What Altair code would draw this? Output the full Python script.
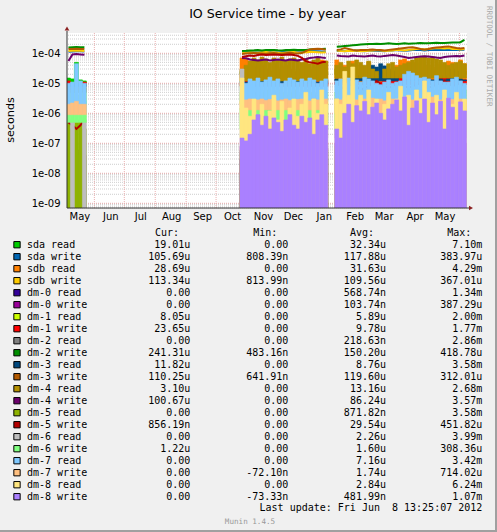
import altair as alt
import pandas as pd

# ---------------- text ----------------
TITLE = "IO Service time - by year"
Y_TITLE = "seconds"
LAST_UPDATE = "Last update: Fri Jun\u00a0 8 13:25:07 2012"
FOOTER = "Munin 1.4.5"
WATERMARK = "RRDTOOL / TOBI OETIKER"
HEADERS = ["Cur:", "Min:", "Avg:", "Max:"]

# ---------------- series ----------------
SERIES = ["sda read", "sda write", "sdb read", "sdb write", "dm-0 read", "dm-0 write",
          "dm-1 read", "dm-1 write", "dm-2 read", "dm-2 write", "dm-3 read", "dm-3 write",
          "dm-4 read", "dm-4 write", "dm-5 read", "dm-5 write", "dm-6 read", "dm-6 write",
          "dm-7 read", "dm-7 write", "dm-8 read", "dm-8 write"]
COLORS = ["#00CC00", "#0066B3", "#FF8000", "#FFCC00", "#330099", "#990099",
          "#CCFF00", "#FF0000", "#808080", "#008F00", "#00487D", "#B35A00",
          "#B38F00", "#6B006B", "#8FB300", "#B30000", "#BEBEBE", "#80FF80",
          "#80C9FF", "#FFC080", "#FFE680", "#AA80FF"]
KIND = ["band", "line", "band", "line", "band", "band",
        "band", "band", "band", "line", "band", "line",
        "band", "line", "band", "line", "band", "band",
        "band", "band", "band", "band"]

# time buckets: three data periods, 4-day buckets
SEGMENT_STARTS = ["2011-05-04", "2011-10-25", "2012-01-28"]
SEGMENT_BUCKETS = [5, 22, 33]
BUCKET_DAYS = 4

# lower edge (microseconds) of each series' band per period; 0 = bottom of graph
LO_US = [[8, 20, 20], None, [5, 8, 10], None, [0, 0, 0], [0, 0, 0],
         [2, 2, 2], [8, 8, 9], [0, 0, 0], None, [8, 10, 12], None,
         [5, 12, 15], None, [0, 0, 0], None, [0, 0.15, 0.15], [0.5, 0.3, 0.25],
         [1.0, 2.5, 2.5], [0.9, 1.3, 1.0], [0, 0, 0], [0, 0, 0]]

# upper values in microseconds (period A: 5, period B1: 22, period B2: 33)
SDA_READ = ([15, 14, 50, 13, 12] +
            [25, 25, 28, 25, 25, 25, 30, 25, 25, 25, 28, 25, 25, 25, 25, 28, 25, 25, 25, 30, 25, 25] +
            [30, 28, 25, 25, 30, 25, 28, 25, 30, 25, 25, 25, 25, 28, 25, 28, 25, 30, 25, 28, 45, 30, 25, 25, 28, 25, 25, 28, 30, 25, 28, 30, 25])
SDA_WRITE = ([112, 115, 118, 116, 114] +
             [105, 108, 110, 108, 106, 110, 112, 110, 108, 106, 108, 110, 112, 110, 108, 110, 112, 115, 118, 116, 114, 112] +
             [120, 122, 118, 120, 122, 125, 120, 118, 122, 125, 122, 120, 118, 122, 125, 128, 125, 122, 125, 128, 130, 128, 125, 128, 130, 132, 130, 128, 132, 130, 128, 130, 132])
SDB_READ = ([8, 8, 9, 8, 8] +
            [70, 65, 55, 35, 30, 40, 30, 25, 45, 30, 35, 40, 30, 25, 30, 45, 50, 30, 35, 40, 60, 55] +
            [60, 45, 40, 35, 55, 30, 40, 35, 50, 20, 15, 15, 20, 15, 25, 40, 60, 65, 55, 50, 45, 60, 35, 40, 30, 35, 45, 40, 55, 50, 40, 60, 45])
SDB_WRITE = ([120, 122, 124, 122, 120] +
             [100, 104, 108, 106, 104, 108, 110, 106, 108, 104, 100, 106, 108, 110, 104, 106, 108, 112, 110, 108, 106, 108] +
             [125, 120, 118, 122, 120, 125, 118, 120, 122, 125, 128, 125, 120, 122, 125, 130, 128, 125, 130, 135, 140, 138, 135, 140, 145, 150, 148, 145, 150, 140, 138, 135, 140])
DM0_READ = ([0.02, 0.03, 0.02, 0.02, 0.03] +
            [0.03, 0.02, 0.04, 0.03, 0.02, 0.05, 0.03, 0.02, 0.04, 0.03, 0.02, 0.03, 0.05, 0.03, 0.02, 0.04, 0.03, 0.02, 0.03, 0.04, 0.02, 0.03] +
            [0.04, 0.03, 0.02, 0.05, 0.03, 0.04, 0.02, 0.03, 0.05, 0.04, 0.03, 0.02, 0.04, 0.03, 0.05, 0.02, 0.03, 0.04, 0.03, 0.02, 0.05, 0.04, 0.03, 0.02, 0.04, 0.03, 0.05, 0.02, 0.03, 0.04, 0.03, 0.02, 0.04])
DM0_WRITE = ([0.05, 0.04, 0.06, 0.05, 0.04] +
             [0.08, 0.06, 0.1, 0.07, 0.09, 0.06, 0.08, 0.1, 0.07, 0.06, 0.09, 0.08, 0.1, 0.07, 0.06, 0.08, 0.09, 0.07, 0.1, 0.06, 0.08, 0.07] +
             [0.1, 0.08, 0.12, 0.09, 0.1, 0.07, 0.11, 0.09, 0.08, 0.12, 0.1, 0.09, 0.08, 0.11, 0.1, 0.09, 0.12, 0.08, 0.1, 0.09, 0.11, 0.08, 0.1, 0.12, 0.09, 0.08, 0.1, 0.11, 0.09, 0.1, 0.08, 0.12, 0.1])
DM1_READ = ([6, 5, 4, 4, 5] +
            [5, 4, 6, 5, 4, 5, 6, 4, 5, 6, 5, 4, 5, 6, 4, 5, 6, 5, 4, 5, 6, 5] +
            [5, 6, 4, 5, 6, 5, 4, 6, 5, 4, 5, 6, 5, 4, 6, 5, 4, 5, 6, 5, 7, 6, 5, 4, 5, 6, 5, 4, 6, 5, 4, 5, 6])
DM1_WRITE = ([12, 10, 9, 9, 11] +
             [10, 12, 11, 10, 9, 12, 10, 14, 11, 10, 12, 10, 9, 11, 10, 12, 11, 10, 12, 11, 10, 12] +
             [11, 10, 12, 10, 11, 12, 10, 11, 12, 14, 12, 11, 12, 13, 15, 18, 16, 14, 12, 11, 10, 12, 11, 10, 12, 14, 16, 18, 17, 14, 12, 11, 13])
DM2_READ = ([0.04, 0.03, 0.05, 0.04, 0.03] +
            [0.05, 0.04, 0.06, 0.05, 0.04, 0.05, 0.06, 0.04, 0.05, 0.04, 0.06, 0.05, 0.04, 0.05, 0.06, 0.04, 0.05, 0.06, 0.04, 0.05, 0.04, 0.05] +
            [0.06, 0.05, 0.04, 0.06, 0.05, 0.07, 0.05, 0.04, 0.06, 0.05, 0.04, 0.06, 0.05, 0.07, 0.04, 0.05, 0.06, 0.05, 0.04, 0.06, 0.05, 0.07, 0.05, 0.04, 0.06, 0.05, 0.04, 0.06, 0.05, 0.07, 0.04, 0.05, 0.06])
DM2_WRITE = ([155, 160, 162, 160, 158] +
             [120, 122, 125, 126, 128, 125, 128, 130, 128, 126, 125, 128, 130, 132, 130, 128, 130, 134, 136, 138, 140, 142] +
             [165, 170, 175, 180, 185, 190, 195, 200, 205, 205, 210, 205, 210, 215, 210, 205, 210, 215, 210, 212, 215, 220, 218, 215, 220, 225, 222, 220, 225, 228, 230, 235, 280])
DM3_READ = ([9, 9, 10, 9, 9] +
            [12, 11, 13, 12, 11, 12, 14, 12, 11, 13, 12, 11, 12, 13, 15, 12, 11, 13, 12, 11, 12, 13] +
            [14, 13, 15, 25, 30, 18, 15, 14, 16, 40, 35, 45, 38, 30, 25, 15, 12, 11, 13, 12, 14, 13, 12, 14, 13, 12, 14, 13, 14, 30, 25, 14, 13])
DM3_WRITE = ([138, 140, 142, 140, 138] +
             [95, 98, 100, 102, 100, 98, 96, 100, 102, 98, 96, 100, 104, 100, 98, 102, 118, 135, 140, 142, 138, 132] +
             [130, 135, 150, 140, 130, 125, 128, 130, 132, 135, 130, 128, 125, 130, 135, 140, 145, 150, 155, 160, 150, 140, 135, 140, 150, 155, 160, 165, 170, 160, 150, 145, 150])
DM4_READ = ([7, 7, 7, 7, 7] +
            [30, 40, 55, 70, 60, 75, 65, 50, 70, 60, 75, 55, 65, 70, 60, 50, 65, 45, 60, 70, 50, 55] +
            [40, 50, 35, 55, 45, 60, 50, 40, 55, 30, 25, 0, 30, 45, 50, 35, 40, 45, 50, 60, 70, 75, 80, 70, 75, 65, 60, 50, 40, 45, 50, 55, 45])
DM4_WRITE = ([55, 92, 94, 92, 90] +
             [70, 68, 62, 60, 58, 60, 62, 58, 60, 62, 60, 58, 62, 60, 58, 62, 65, 70, 72, 75, 72, 70] +
             [85, 82, 80, 78, 85, 82, 80, 78, 82, 85, 80, 78, 82, 85, 88, 85, 80, 75, 70, 72, 75, 78, 80, 78, 75, 72, 70, 75, 78, 80, 82, 80, 85])
DM5_READ = ([0.6, 0.3, 0.5, 0.6, 0.3] +
            [0.06, 0.05, 0.08, 0.06, 0.05, 0.07, 0.06, 0.05, 0.6, 0.06, 0.05, 0.07, 0.06, 0.05, 0.08, 0.06, 0.05, 0.07, 0.06, 0.3, 0.4, 0.06] +
            [0.08, 0.06, 0.07, 0.05, 0.09, 0.06, 0.05, 0.07, 0.08, 0.06, 0.05, 0.07, 0.09, 0.06, 0.07, 0.05, 0.08, 0.07, 0.06, 0.05, 0.09, 0.06, 0.07, 0.05, 0.08, 0.06, 0.07, 0.09, 0.05, 0.06, 0.08, 0.07, 0.06])
DM5_WRITE = ([0.5, 0.4, 0.3, 0.4, 0.6] +
             [75, 80, 85, 82, 88, 92, 88, 90, 92, 90, 88, 90, 92, 88, 82, 70, 55, 50, 48, 45, 50, 52] +
             [10, 8, 6, 8, 10, 8, 6, 7, 8, 10, 12, 9, 8, 7, 8, 10, 9, 8, 7, 8, 9, 10, 8, 7, 8, 9, 10, 12, 10, 8, 9, 10, 8])
DM6_READ = ([0, 0.6, 0, 0, 0.6] +
            [30, 3, 2, 4, 2, 3, 2, 1.5, 3, 2, 0.8, 0.6, 2, 3, 1, 2, 3, 4, 2, 5, 3, 2] +
            [2, 3, 1.5, 2, 4, 2, 3, 2, 1.5, 3, 2, 4, 2, 3, 1.5, 2, 3, 2, 4, 2, 3, 1.5, 2, 3, 2, 4, 3, 2, 1.5, 3, 2, 4, 2])
DM6_WRITE = ([2.5, 2.2, 3, 2, 2.5] +
             [1.5, 2, 1.8, 2.2, 2, 1.8, 2.4, 2, 1.6, 2.2, 2, 1.8, 2.4, 2, 1.8, 2.2, 2, 1.6, 2.4, 2, 1.8, 2] +
             [1.8, 2, 1.6, 2.2, 1.8, 2, 1.5, 2.2, 1.8, 2, 1.6, 1.4, 1.8, 2, 1.6, 2, 1.8, 1.5, 1.2, 1.4, 1.6, 1.2, 1.0, 1.4, 1.2, 1.5, 1.3, 1.6, 1.4, 1.2, 1.5, 1.6, 1.4])
DM7_READ = ([10, 11, 45, 12, 10] +
            [12, 10, 14, 12, 15, 11, 13, 16, 12, 14, 10, 12, 15, 13, 11, 14, 12, 15, 13, 10, 12, 14] +
            [12, 14, 10, 15, 12, 13, 11, 16, 14, 12, 10, 9, 11, 13, 10, 11, 12, 20, 25, 22, 18, 15, 16, 14, 12, 18, 12, 11, 11, 14, 16, 12, 10])
DM7_WRITE = ([2, 2.2, 2.5, 2, 2] +
             [2.5, 2.8, 3, 2.6, 2.8, 3, 2.7, 2.9, 3, 2.6, 2.8, 3, 2.7, 2.5, 2.9, 3, 2.8, 2.6, 3, 2.8, 2.7, 3] +
             [3, 2.8, 3.2, 2.6, 3, 2.8, 3.4, 3, 2.7, 3.2, 2.9, 3, 2.6, 3.3, 3, 2.8, 3.2, 3.5, 3, 2.8, 3.4, 3.1, 2.9, 3.2, 3.5, 3, 2.8, 3.3, 3.1, 2.9, 3.2, 3, 2.8])
DM8_READ = ([0, 0, 0, 0, 0] +
            [15, 1.5, 0.8, 3, 0.5, 2, 0.3, 1.2, 4, 0.6, 2.5, 0.4, 1.5, 3, 0.8, 2, 5, 0.5, 3, 1, 6, 2] +
            [3, 2, 25, 4, 35, 1.5, 4, 2, 6, 1, 3, 0.5, 2, 5, 1.5, 3, 8, 2, 4, 1, 6, 3, 12, 5, 2, 4, 1.5, 6, 3, 2, 5, 1, 3])
DM8_WRITE = ([0, 0, 0, 0, 0] +
             [0.15, 0.12, 0.2, 0.6, 0.9, 0.4, 0.8, 0.3, 0.7, 0.5, 0.25, 0.6, 0.9, 0.4, 0.3, 0.8, 0.5, 0.7, 0.2, 0.6, 0.9, 0.4] +
             [0.3, 0.15, 1.0, 2.0, 0.5, 1.8, 1.2, 2.5, 0.9, 1.6, 2.2, 1.0, 0.6, 1.4, 2.0, 2.8, 1.2, 3.5, 0.4, 1.5, 2.6, 1.0, 3.0, 0.5, 2.2, 0.9, 2.5, 0.3, 3.2, 1.6, 0.6, 2.4, 1.2])

VALUES_US = [SDA_READ, SDA_WRITE, SDB_READ, SDB_WRITE, DM0_READ, DM0_WRITE,
             DM1_READ, DM1_WRITE, DM2_READ, DM2_WRITE, DM3_READ, DM3_WRITE,
             DM4_READ, DM4_WRITE, DM5_READ, DM5_WRITE, DM6_READ, DM6_WRITE,
             DM7_READ, DM7_WRITE, DM8_READ, DM8_WRITE]

# legend table values
CUR = ["19.01u", "105.69u", "28.69u", "113.34u", "0.00", "0.00", "8.05u", "23.65u", "0.00", "241.31u", "11.82u",
       "110.25u", "3.10u", "100.67u", "0.00", "856.19n", "0.00", "1.22u", "0.00", "0.00", "0.00", "0.00"]
MIN = ["0.00", "808.39n", "0.00", "813.99n", "0.00", "0.00", "0.00", "0.00", "0.00", "483.16n", "0.00",
       "641.91n", "0.00", "0.00", "0.00", "0.00", "0.00", "0.00", "0.00", "-72.10n", "0.00", "-73.33n"]
AVG = ["32.34u", "117.88u", "31.63u", "109.56u", "568.74n", "103.74n", "5.89u", "9.78u", "218.63n", "150.20u", "8.76u",
       "119.60u", "13.16u", "86.24u", "871.82n", "29.54u", "2.26u", "1.60u", "7.16u", "1.74u", "2.84u", "481.99n"]
MAX = ["7.10m", "383.97u", "4.29m", "367.01u", "1.34m", "387.29u", "2.00m", "1.77m", "2.86m", "418.78u", "3.58m",
       "312.01u", "2.68m", "3.57m", "3.58m", "451.82u", "3.99m", "308.36u", "3.42m", "714.02u", "6.24m", "1.07m"]

# axis values
MONTH_STARTS = ["2011-06-01", "2011-07-01", "2011-08-01", "2011-09-01", "2011-10-01", "2011-11-01",
                "2011-12-01", "2012-01-01", "2012-02-01", "2012-03-01", "2012-04-01", "2012-05-01", "2012-06-01"]
MONTH_LABEL_DAYS = [(2011, 5), (2011, 6), (2011, 7), (2011, 8), (2011, 9), (2011, 10), (2011, 11),
                    (2011, 12), (2012, 1), (2012, 2), (2012, 3), (2012, 4), (2012, 5)]
DECADES = [1e-9, 1e-8, 1e-7, 1e-6, 1e-5, 1e-4]

# ---------------- geometry ----------------
W, H = 400, 175
Y_MIN = 10 ** -9.1567
Y_MAX = 10 ** -3.3233
MINOR = [k * d for d in [1e-10, 1e-9, 1e-8, 1e-7, 1e-6, 1e-5, 1e-4] for k in range(2, 10)
         if Y_MIN < k * d < Y_MAX]

X_SCALE = alt.Scale(domain=[alt.DateTime(year=2011, month=5, date=4, hours=13, minutes=25),
                            alt.DateTime(year=2012, month=6, date=8, hours=13, minutes=25)])
X_AXIS = alt.Axis(values=[alt.DateTime(year=y, month=m, date=17) for y, m in MONTH_LABEL_DAYS],
                  format="%b", ticks=False, domain=False, grid=False, title=None,
                  labelFont="DejaVu Sans", labelFontSize=10, labelColor="black",
                  labelPadding=3, labelOverlap=False, labelFlush=False)
Y_AXIS = alt.Axis(values=DECADES, ticks=False, domain=False, grid=False, title=None,
                  labelFont="DejaVu Sans", labelFontSize=10, labelColor="black", labelPadding=7,
                  labelExpr="'1e-0' + toString(round(-log(datum.value) / LN10))")


def yscale():
    return alt.Scale(type="log", domain=[Y_MIN, Y_MAX], clamp=True)


def ts(t):
    return t.strftime("%Y-%m-%dT%H:%M:%S")


layers = []
one = pd.DataFrame({"a": [0]})

# grid (under the data)
layers.append(alt.Chart(pd.DataFrame({"v": MINOR})).mark_rule(
    color="#CDCDCD", strokeDash=[1, 1], strokeWidth=1).encode(
    y=alt.Y("v:Q", scale=yscale(), axis=None)))
layers.append(alt.Chart(pd.DataFrame({"v": DECADES})).mark_rule(
    color="#E3A8A8", strokeDash=[1, 1], strokeWidth=1).encode(
    y=alt.Y("v:Q", scale=yscale(), axis=Y_AXIS)))
layers.append(alt.Chart(pd.DataFrame({"d": [m + "T00:00:00" for m in MONTH_STARTS]})).mark_rule(
    color="#EBAFAF", strokeDash=[1, 1], strokeWidth=1).encode(
    x=alt.X("d:T", scale=X_SCALE, axis=X_AXIS)))

# data
for s_idx, name in enumerate(SERIES):
    vals = VALUES_US[s_idx]
    assert len(vals) == sum(SEGMENT_BUCKETS), name
    rows = []
    i = 0
    for seg, (start, n) in enumerate(zip(SEGMENT_STARTS, SEGMENT_BUCKETS)):
        t0 = pd.Timestamp(start + "T00:00:00")
        for k in range(n):
            v = vals[i]
            i += 1
            b0 = t0 + pd.Timedelta(days=BUCKET_DAYS * k)
            b1 = b0 + pd.Timedelta(days=BUCKET_DAYS)
            mid = b0 + pd.Timedelta(days=BUCKET_DAYS / 2)
            if KIND[s_idx] == "band":
                lo = LO_US[s_idx][seg] * 1e-6
                lo = max(lo, Y_MIN)
                hi = v * 1e-6
                if hi <= lo:
                    continue
                rows.append({"s": ts(b0), "e": ts(b1), "hi": hi, "lo": lo, "seg": seg})
            else:
                rows.append({"m": ts(mid), "v": v * 1e-6, "seg": seg})
    df = pd.DataFrame(rows)
    if KIND[s_idx] == "band":
        layers.append(alt.Chart(df).mark_rect(clip=True, color=COLORS[s_idx],
                                              stroke=COLORS[s_idx], strokeWidth=0.6).encode(
            x=alt.X("s:T", scale=X_SCALE, axis=X_AXIS),
            x2="e:T",
            y=alt.Y("hi:Q", scale=yscale(), axis=None),
            y2="lo:Q",
        ))
    else:
        layers.append(alt.Chart(df).mark_line(clip=True, color=COLORS[s_idx], strokeWidth=2).encode(
            x=alt.X("m:T", scale=X_SCALE, axis=X_AXIS),
            y=alt.Y("v:Q", scale=yscale(), axis=None),
            detail="seg:N",
        ))

# axis lines and arrows
layers.append(alt.Chart(one).mark_rule(color="#333333", strokeWidth=1).encode(
    x=alt.value(0), y=alt.value(-2), y2=alt.value(H)))
layers.append(alt.Chart(one).mark_rule(color="#333333", strokeWidth=1).encode(
    x=alt.value(0), x2=alt.value(W + 3), y=alt.value(H)))
layers.append(alt.Chart(one).mark_point(shape="triangle-up", filled=True, size=22, color="#8B2222", opacity=1).encode(
    x=alt.value(0), y=alt.value(-4.5)))
layers.append(alt.Chart(one).mark_point(shape="triangle-right", filled=True, size=22, color="#8B2222", opacity=1).encode(
    x=alt.value(W + 4), y=alt.value(H)))

# titles / footer
layers.append(alt.Chart(pd.DataFrame({"t": [TITLE]})).mark_text(
    font="DejaVu Sans", fontSize=12.6, align="center", baseline="alphabetic", color="black").encode(
    x=alt.value(200.5), y=alt.value(-15.5), text="t:N"))
layers.append(alt.Chart(pd.DataFrame({"t": [Y_TITLE]})).mark_text(
    font="DejaVu Sans", fontSize=11.2, align="center", baseline="middle", angle=270, color="black").encode(
    x=alt.value(-56), y=alt.value(87), text="t:N"))
layers.append(alt.Chart(pd.DataFrame({"t": [WATERMARK]})).mark_text(
    font="DejaVu Sans Mono", fontSize=7.6, align="left", baseline="middle", angle=90, color="#AAAAAA").encode(
    x=alt.value(422), y=alt.value(-27), text="t:N"))
layers.append(alt.Chart(pd.DataFrame({"t": [FOOTER]})).mark_text(
    font="DejaVu Sans Mono", fontSize=7.6, align="center", baseline="alphabetic", color="#999999").encode(
    x=alt.value(183), y=alt.value(491), text="t:N"))
layers.append(alt.Chart(pd.DataFrame({"t": [LAST_UPDATE]})).mark_text(
    font="DejaVu Sans Mono", fontSize=10, align="right", baseline="alphabetic", color="black").encode(
    x=alt.value(415.3), y=alt.value(478.3), text="t:N"))

# legend
def pad(s):
    return s if s[-1] in "unm" else s + "\u00a0"

legend = pd.DataFrame({
    "row": list(range(len(SERIES))),
    "name": SERIES,
    "color": COLORS,
    "cur": [pad(s) for s in CUR],
    "min": [pad(s) for s in MIN],
    "avg": [pad(s) for s in AVG],
    "max": [pad(s) for s in MAX],
})
n_rows = len(SERIES) - 1
text_y = alt.Y("row:Q", scale=alt.Scale(domain=[0, n_rows], range=[215.3, 215.3 + 12 * n_rows]), axis=None)
sw_y = alt.Y("row:Q", scale=alt.Scale(domain=[0, n_rows], range=[211.7, 211.7 + 12 * n_rows]), axis=None)

layers.append(alt.Chart(legend).mark_square(size=40, filled=True, stroke="black", strokeWidth=1, opacity=1).encode(
    x=alt.value(-50), y=sw_y, fill=alt.Fill("color:N", scale=None)))
layers.append(alt.Chart(legend).mark_text(font="DejaVu Sans Mono", fontSize=10, align="left",
                                          baseline="alphabetic", color="black").encode(
    x=alt.value(-40), y=text_y, text="name:N"))
for col, xr in [("cur", 123.3), ("min", 221.3), ("avg", 319.0), ("max", 415.3)]:
    layers.append(alt.Chart(legend).mark_text(font="DejaVu Sans Mono", fontSize=10, align="right",
                                              baseline="alphabetic", color="black").encode(
        x=alt.value(xr), y=text_y, text=f"{col}:N"))
for h, xl in zip(HEADERS, [88, 186.3, 283, 380.3]):
    layers.append(alt.Chart(pd.DataFrame({"t": [h]})).mark_text(
        font="DejaVu Sans Mono", fontSize=10, align="left", baseline="alphabetic", color="black").encode(
        x=alt.value(xl), y=alt.value(203), text="t:N"))

# frame
layers.append(alt.Chart(one).mark_rule(color="#A0A0A0", strokeWidth=2).encode(
    x=alt.value(W + 29), y=alt.value(-33), y2=alt.value(H + 324)))
layers.append(alt.Chart(one).mark_rule(color="#A0A0A0", strokeWidth=2).encode(
    x=alt.value(-67), x2=alt.value(W + 30), y=alt.value(H + 323)))

chart = alt.layer(*layers).resolve_scale(y="independent").properties(
    width=W, height=H,
    autosize=alt.AutoSizeParams(type="none"),
    padding={"left": 67, "top": 33, "right": 30, "bottom": 324},
    background="#F0F0F0",
).configure_view(fill="white", stroke=None)

chart.save("out.html", embed_options={"renderer": "svg", "actions": False})
